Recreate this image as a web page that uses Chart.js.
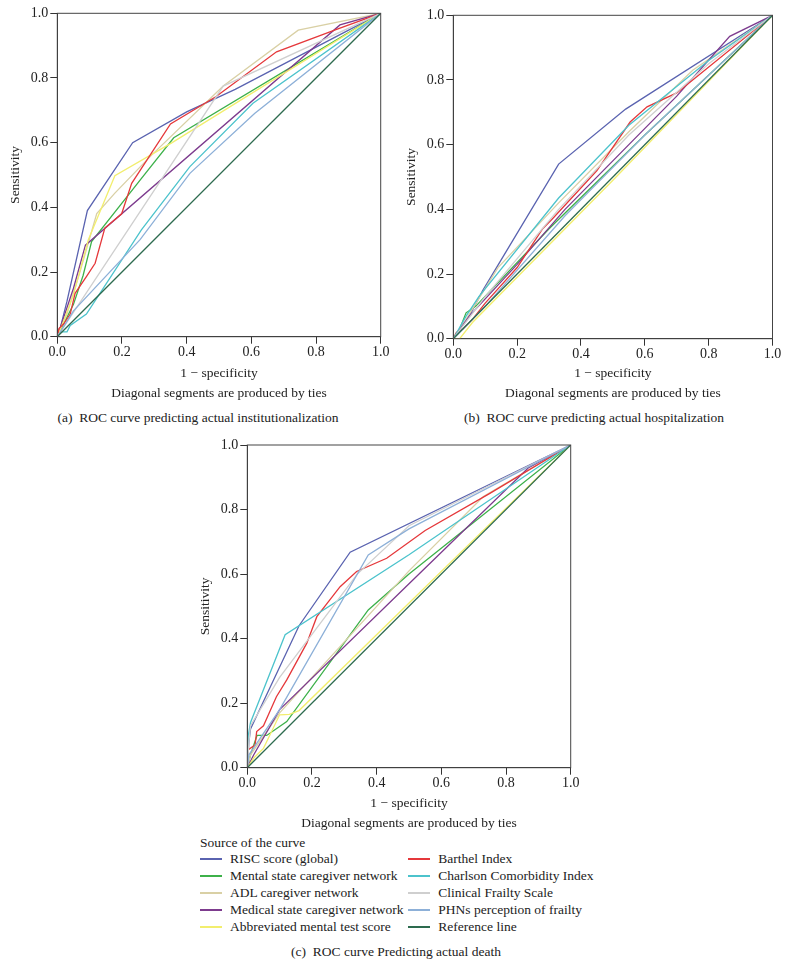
<!DOCTYPE html>
<html>
<head>
<meta charset="utf-8">
<script src="https://cdn.jsdelivr.net/npm/chart.js@4.4.1/dist/chart.umd.min.js"></script>
<style>
  body { margin: 0; background: #fff; font-family: 'Liberation Serif', serif; color: #222; }
  #page { position: relative; width: 792px; height: 967px; overflow: hidden; }
  canvas { position: absolute; }
  .txt { position: absolute; font-size: 13.5px; line-height: 16px; white-space: nowrap; }
  .sw { position: absolute; height: 2px; width: 22px; }
</style>
</head>
<body>
<div id="page">
  <canvas id="instChart" width="396" height="403" style="left:0;top:0;width:396px;height:403px"></canvas>
  <canvas id="hospChart" width="396" height="403" style="left:396px;top:0;width:396px;height:403px"></canvas>
  <canvas id="deathChart" width="400" height="403" style="left:190px;top:430px;width:400px;height:403px"></canvas>
  <div class="txt" id="capA" style="top:410px;width:396px;left:0;text-align:center">(a)&nbsp; ROC curve predicting actual institutionalization</div>
  <div class="txt" id="capB" style="top:410px;width:396px;left:396px;text-align:center">(b)&nbsp; ROC curve predicting actual hospitalization</div>
  <div class="txt" id="capC" style="top:944px;width:792px;left:0;text-align:center">(c)&nbsp; ROC curve Predicting actual death</div>
  <div id="legend"></div>
</div>
<script>
// series names and colours (same for all three panels)
const seriesNames = [
    'RISC score (global)',
    'Mental state caregiver network',
    'ADL caregiver network',
    'Medical state caregiver network',
    'Abbreviated mental test score',
    'Barthel Index',
    'Charlson Comorbidity Index',
    'Clinical Frailty Scale',
    'PHNs perception of frailty',
    'Reference line'
];
const seriesColors = ['#5a63b0', '#3db14a', '#d9d0a5', '#7d3b8e', '#f2ee6e',
    '#e5383b', '#4cc3cc', '#cfcfcf', '#8db0d8', '#2d6b4f'];

const axisTicks = [0, 0.2, 0.4, 0.6, 0.8, 1.0];
const refLine = [[0, 0], [1, 1]];

// (a) institutionalization  [1 - specificity, sensitivity]
const instRisc = [[0,0],[0.01,0.03],[0.03,0.11],[0.093,0.39],[0.233,0.6],[0.4,0.695],[0.55,0.765],[1,1]];
const instMental = [[0,0],[0.02,0.04],[0.05,0.1],[0.08,0.19],[0.106,0.294],[0.256,0.484],[0.36,0.615],[1,1]];
const instAdl = [[0,0],[0.03,0.07],[0.07,0.2],[0.122,0.381],[0.178,0.444],[0.29,0.56],[0.513,0.775],[0.745,0.948],[1,1]];
const instMedical = [[0,0],[0.02,0.06],[0.05,0.15],[0.087,0.283],[0.874,0.964],[1,1]];
const instAbbrev = [[0,0],[0.02,0.05],[0.05,0.13],[0.096,0.3],[0.178,0.498],[0.355,0.6],[1,1]];
const instBarthel = [[0,0],[0.005,0.025],[0.02,0.04],[0.04,0.07],[0.055,0.134],[0.09,0.186],[0.117,0.227],[0.147,0.336],[0.199,0.38],[0.23,0.474],[0.35,0.658],[0.49,0.742],[0.678,0.881],[0.874,0.954],[1,1]];
const instCharlson = [[0,0],[0.01,0.015],[0.03,0.015],[0.04,0.035],[0.09,0.07],[0.26,0.33],[0.41,0.526],[0.605,0.722],[1,1]];
const instClinical = [[0,0],[0.513,0.775],[1,1]];
const instPhns = [[0,0],[0.05,0.08],[0.256,0.3],[0.41,0.505],[0.61,0.69],[1,1]];

// (b) hospitalization
const hospRisc = [[0,0],[0.02,0.03],[0.05,0.07],[0.093,0.15],[0.33,0.54],[0.54,0.71],[1,1]];
const hospMental = [[0,0],[0.02,0.03],[0.04,0.08],[0.07,0.1],[0.3,0.34],[0.6,0.63],[1,1]];
const hospAdl = [[0,0],[0.04,0.06],[0.14,0.22],[0.33,0.42],[0.55,0.64],[0.75,0.83],[1,1]];
const hospMedical = [[0,0],[0.05,0.07],[0.2,0.23],[0.35,0.4],[0.55,0.6],[0.7,0.75],[0.866,0.935],[1,1]];
const hospAbbrev = [[0,0],[0.02,0],[0.06,0.05],[0.5,0.49],[1,1]];
const hospBarthel = [[0,0],[0.01,0.02],[0.03,0.03],[0.06,0.06],[0.1,0.11],[0.2,0.22],[0.28,0.34],[0.31,0.37],[0.45,0.52],[0.554,0.67],[0.607,0.717],[0.7,0.76],[1,1]];
const hospCharlson = [[0,0],[0.04,0.07],[0.08,0.13],[0.33,0.435],[0.55,0.66],[0.8,0.86],[1,1]];
const hospClinical = [[0,0],[0.1,0.13],[0.33,0.4],[0.55,0.63],[0.8,0.85],[1,1]];
const hospPhns = [[0,0],[0.1,0.1],[0.35,0.38],[0.6,0.63],[1,1]];

// (c) death
const deathRisc = [[0,0],[0.005,0.08],[0.01,0.12],[0.16,0.44],[0.318,0.668],[1,1]];
const deathMental = [[0,0],[0.01,0.04],[0.03,0.1],[0.06,0.1],[0.122,0.143],[0.374,0.489],[0.5,0.6],[1,1]];
const deathAdl = [[0,0],[0.01,0.04],[0.1,0.17],[0.5,0.61],[0.73,0.84],[1,1]];
const deathMedical = [[0,0],[0.02,0.04],[0.1,0.18],[0.5,0.57],[0.87,0.93],[1,1]];
const deathAbbrev = [[0,0],[0.02,0.03],[0.05,0.06],[0.1,0.164],[0.13,0.165],[0.16,0.177],[1,1]];
const deathBarthel = [[0,0],[0.003,0.056],[0.024,0.07],[0.029,0.112],[0.05,0.13],[0.09,0.22],[0.122,0.272],[0.184,0.386],[0.215,0.468],[0.287,0.561],[0.338,0.608],[0.431,0.649],[0.55,0.735],[0.75,0.85],[1,1]];
const deathCharlson = [[0,0],[0.003,0.1],[0.01,0.14],[0.117,0.412],[0.5,0.66],[1,1]];
const deathClinical = [[0,0],[0.005,0.08],[0.01,0.13],[0.1,0.28],[0.34,0.6],[0.5,0.75],[1,1]];
const deathPhns = [[0,0],[0.005,0.04],[0.1,0.18],[0.374,0.659],[0.5,0.74],[1,1]];

const instSeries = [instRisc, instMental, instAdl, instMedical, instAbbrev, instBarthel, instCharlson, instClinical, instPhns, refLine];
const hospSeries = [hospRisc, hospMental, hospAdl, hospMedical, hospAbbrev, hospBarthel, hospCharlson, hospClinical, hospPhns, refLine];
const deathSeries = [deathRisc, deathMental, deathAdl, deathMedical, deathAbbrev, deathBarthel, deathCharlson, deathClinical, deathPhns, refLine];

const fontFamily = "'Liberation Serif', serif";
const textColor = '#222';

// box round the plot area (top and right sides)
const framePlugin = {
    id: 'frame',
    afterDraw(chart) {
        const a = chart.chartArea;
        const ctx = chart.ctx;
        ctx.save();
        ctx.strokeStyle = '#444';
        ctx.lineWidth = 1;
        ctx.strokeRect(a.left, a.top, a.right - a.left, a.bottom - a.top);
        ctx.restore();
    }
};

function makeRoc(id, series, padTop, padRight, xHeight) {
    const datasets = series.map((pts, i) => ({
        label: seriesNames[i],
        data: pts.map(p => ({ x: p[0], y: p[1] })),
        showLine: true,
        borderColor: seriesColors[i],
        backgroundColor: seriesColors[i],
        borderWidth: 1.3,
        pointRadius: 0,
        tension: 0,
        order: series.length - i
    }));
    const tickFont = { family: fontFamily, size: 14, lineHeight: 1.2 };
    return new Chart(document.getElementById(id), {
        type: 'scatter',
        data: { datasets: datasets },
        options: {
            responsive: false,
            animation: false,
            devicePixelRatio: 1,
            layout: { padding: { top: padTop, right: padRight, left: 0, bottom: 0 } },
            plugins: { legend: { display: false }, tooltip: { enabled: false } },
            scales: {
                x: {
                    type: 'linear', min: 0, max: 1,
                    afterBuildTicks: s => { s.ticks = axisTicks.map(v => ({ value: v })); },
                    ticks: { callback: v => v.toFixed(1), font: tickFont, color: textColor, padding: 0, maxRotation: 0 },
                    grid: { drawOnChartArea: false, tickLength: 7, color: '#333' },
                    border: { color: '#333' },
                    title: {
                        display: true,
                        text: ['1 \u2212 specificity', 'Diagonal segments are produced by ties'],
                        font: { family: fontFamily, size: 13.5, lineHeight: 20 / 13.5 },
                        color: textColor,
                        padding: 0
                    },
                    afterFit: s => { s.height = xHeight; }
                },
                y: {
                    type: 'linear', min: 0, max: 1,
                    afterBuildTicks: s => { s.ticks = axisTicks.map(v => ({ value: v })); },
                    ticks: { callback: v => v.toFixed(1), font: tickFont, color: textColor, padding: 2 },
                    grid: { drawOnChartArea: false, tickLength: 7, color: '#333' },
                    border: { color: '#333' },
                    title: {
                        display: true,
                        text: 'Sensitivity',
                        font: { family: fontFamily, size: 13.5, lineHeight: 1.2 },
                        color: textColor,
                        padding: { top: 7.5, bottom: 0 }
                    },
                    afterFit: s => { s.width = 57.3; }
                }
            }
        },
        plugins: [framePlugin]
    });
}

makeRoc('instChart', instSeries, 13.3, 15.3, 66.3);
makeRoc('hospChart', hospSeries, 15.3, 19.5, 64.3);
makeRoc('deathChart', deathSeries, 15, 19.3, 65.3);

// legend of panel (c): two columns of five
const legend = document.getElementById('legend');
let html = '<div class="txt" style="left:200px;top:835px">Source of the curve</div>';
seriesNames.forEach((name, i) => {
    const col = Math.floor(i / 5);
    const row = i % 5;
    const cy = 859.3 + row * 16.8;
    const swLeft = col === 0 ? 200 : 408;
    const txLeft = col === 0 ? 230 : 438.3;
    html += '<div class="sw" style="left:' + swLeft + 'px;top:' + Math.round(cy - 1) + 'px;background:' + seriesColors[i] + '"></div>';
    html += '<div class="txt" style="left:' + txLeft + 'px;top:' + (cy - 8) + 'px">' + name + '</div>';
});
legend.innerHTML = html;
</script>
</body>
</html>
